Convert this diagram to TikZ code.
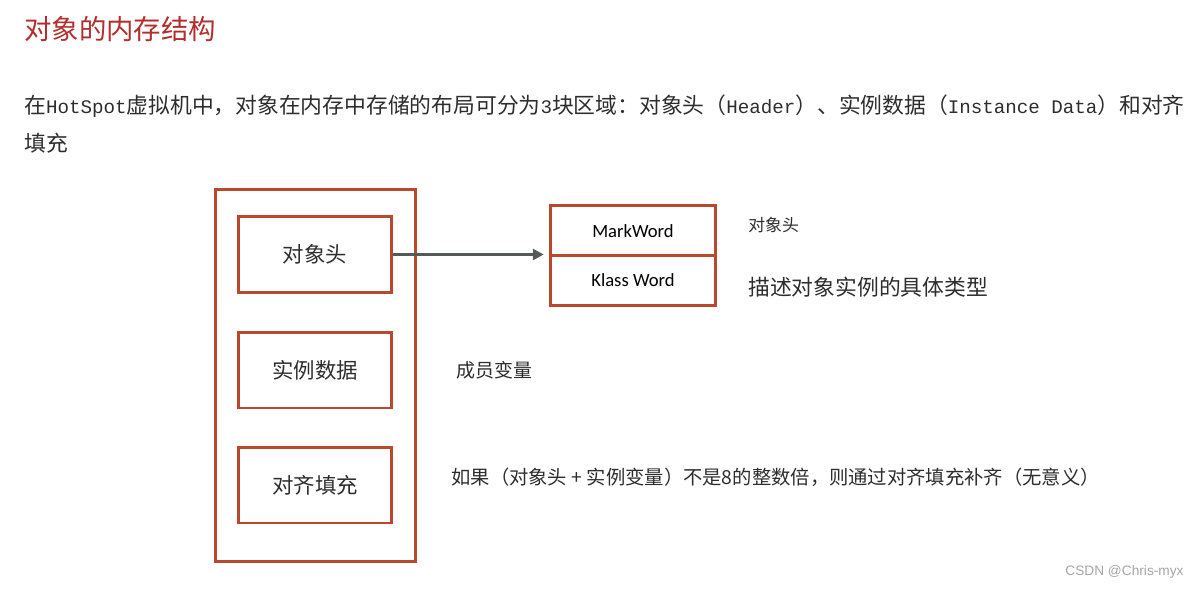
\documentclass[tikz,border=0pt]{standalone}
\usepackage{fontspec}
\usepackage{tikz}
\setmainfont{Noto Sans CJK SC}
\newfontfamily\codefont{Liberation Mono}[Scale=0.88]
\newfontfamily\wordfont{Carlito}
\newfontfamily\markfont{Liberation Sans}
\usetikzlibrary{arrows.meta, positioning}
\definecolor{TitleRed}{RGB}{178, 46, 44}
\definecolor{BoxRed}{RGB}{186, 72, 44}
\definecolor{ArrowGray}{RGB}{84, 90, 90}
\definecolor{TextDark}{RGB}{45, 45, 45}
\definecolor{MarkGray}{RGB}{165, 165, 165}

\begin{document}
\begin{tikzpicture}[
        x=0.02cm, y=-0.02cm,
        frame/.style={
            rectangle,
            draw=BoxRed,
            line width=1.7pt,
            minimum width=4.0cm,
            minimum height=7.44cm
        },
        block/.style={
            rectangle,
            draw=BoxRed,
            line width=1.7pt,
            minimum width=3.06cm,
            minimum height=1.52cm,
            text=TextDark,
            font=\fontsize{12.2}{14}\selectfont
        },
        cell/.style={
            rectangle,
            draw=BoxRed,
            line width=1.7pt,
            minimum width=3.3cm,
            minimum height=1.0cm,
            text=black,
            font=\wordfont\fontsize{10.6}{12}\selectfont
        },
        note/.style={
            anchor=west,
            inner sep=0pt,
            text=TextDark
        },
        arrow/.style={
            -{Triangle[length=0.22cm, width=0.22cm]},
            line width=1.6pt,
            draw=ArrowGray
        }
    ]
        \useasboundingbox (0,0) rectangle (1198,589);

        % Title and paragraph
        \node[note, text=TitleRed, font=\fontsize{15.6}{18}\selectfont] (title) at (24,29) {对象的内存结构};
        \node[note, align=left, font=\fontsize{12.4}{21.6}\selectfont] (intro) at (24,124)
            {在{\codefont HotSpot}虚拟机中，对象在内存中存储的布局可分为{\codefont 3}块区域：对象头（{\codefont Header}）、实例数据（{\codefont Instance Data}）和对齐\\填充};

        % Object layout
        \node[frame] (obj) at (315.5,375.5) {};
        \node[block] (head) at (315,254.5) {对象头};
        \node[block] (data) at (315,370) {实例数据};
        \node[block] (pad) at (315,485) {对齐填充};

        % Header parts
        \node[cell] (mark) at (633,230.75) {MarkWord};
        \node[cell] (klass) at (633,280.25) {Klass Word};

        % Notes
        \node[note, font=\fontsize{9.6}{12}\selectfont] (markNote) at (748,225) {对象头};
        \node[note, font=\fontsize{12.4}{14}\selectfont] (klassNote) at (748,287) {描述对象实例的具体类型};
        \node[note, font=\fontsize{10.8}{13}\selectfont] (dataNote) at (456,370) {成员变量};
        \node[note, font=\fontsize{11.0}{13}\selectfont] (padNote) at (451,477) {如果（对象头 + 实例变量）不是8的整数倍，则通过对齐填充补齐（无意义）};

        % Watermark
        \node[note, text=MarkGray, font=\markfont\fontsize{7.8}{9}\selectfont] (watermark) at (1065,572) {CSDN @Chris-myx};

        % Arrow
        \draw[arrow, shorten >=3pt] (head.east) -- (head.east -| klass.west);
    \end{tikzpicture}
\end{document}
